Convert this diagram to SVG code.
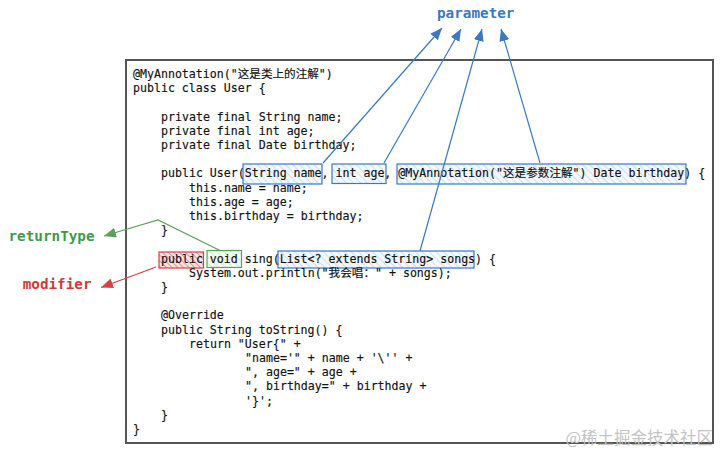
<svg xmlns="http://www.w3.org/2000/svg" width="720" height="452" viewBox="0 0 720 452">
<style>
.code{font-family:"DejaVu Sans Mono","Liberation Mono","Noto Sans CJK SC",monospace;font-size:11.6px;fill:#111;stroke:#111;stroke-width:0.15}
.lbl{font-family:"DejaVu Sans Mono","Liberation Mono",monospace;font-size:14.3px;font-weight:bold}
.frame{fill:#fff;stroke:#555;stroke-width:2}
.bbox{stroke:#3a78c3;stroke-width:1.2;fill:url(#hb)}
.rbox{stroke:#d94040;stroke-width:1.2;fill:url(#hr)}
.gbox{stroke:#5aa05a;stroke-width:1.2;fill:url(#hg)}
.bl{stroke:#3a78c3;stroke-width:1.2;fill:none}
.rl{stroke:#d94040;stroke-width:1.2;fill:none}
.gl{stroke:#5aa05a;stroke-width:1.2;fill:none}
.wm{font-family:"Noto Sans CJK SC",sans-serif;font-size:16.5px;fill:#c4c4c4}
</style>
<defs>
<pattern id="hb" width="5" height="5" patternUnits="userSpaceOnUse" patternTransform="rotate(-45)">
<rect width="5" height="5" fill="#f3f8fd"/><line x1="0" y1="0" x2="0" y2="5" stroke="#a9c8ea" stroke-width="1"/>
</pattern>
<pattern id="hr" width="4" height="4" patternUnits="userSpaceOnUse" patternTransform="rotate(-45)">
<rect width="4" height="4" fill="#fbe3e3"/><line x1="0" y1="0" x2="0" y2="4" stroke="#e06464" stroke-width="1.3"/>
</pattern>
<pattern id="hg" width="5" height="5" patternUnits="userSpaceOnUse" patternTransform="rotate(-45)">
<rect width="5" height="5" fill="#f4faf3"/><line x1="0" y1="0" x2="0" y2="5" stroke="#b9dcb5" stroke-width="1"/>
</pattern>
<marker id="ab" viewBox="0 0 12 10" refX="12" refY="5" markerWidth="12" markerHeight="10" markerUnits="userSpaceOnUse" orient="auto">
<path d="M0,0 L12,5 L0,10 z" fill="#3a78c3"/>
</marker>
<marker id="ar" viewBox="0 0 12 10" refX="12" refY="5" markerWidth="12" markerHeight="10" markerUnits="userSpaceOnUse" orient="auto">
<path d="M0,0 L12,5 L0,10 z" fill="#d94040"/>
</marker>
<marker id="ag" viewBox="0 0 12 10" refX="12" refY="5" markerWidth="12" markerHeight="10" markerUnits="userSpaceOnUse" orient="auto">
<path d="M0,0 L12,5 L0,10 z" fill="#5aa05a"/>
</marker>
</defs>
<rect width="720" height="452" fill="#fff"/>

<g id="code-frame">
<rect class="frame" x="126" y="60" width="587" height="383"/>
</g>

<g id="highlights">
<rect id="p-name" class="bbox" x="243" y="164" width="79" height="20"/>
<rect id="p-age" class="bbox" x="332" y="164" width="54" height="19.5"/>
<rect id="p-birthday" class="bbox" x="397" y="164" width="289" height="20"/>
<rect id="p-songs" class="bbox" x="278" y="251" width="196" height="17"/>
<rect id="mod-public" class="rbox" x="159" y="252" width="44.5" height="16"/>
<rect id="ret-void" class="gbox" x="207" y="250.5" width="34.5" height="17"/>
</g>

<g id="code">
<text class="code" x="133" y="78">@MyAnnotation("这是类上的注解")</text>
<text class="code" x="133" y="92.2">public class User {</text>
<text class="code" x="161" y="120.6">private final String name;</text>
<text class="code" x="161" y="134.8">private final int age;</text>
<text class="code" x="161" y="149">private final Date birthday;</text>
<text class="code" x="161" y="177.4">public User(String name, int age, @MyAnnotation("这是参数注解") Date birthday) {</text>
<text class="code" x="189" y="191.6">this.name = name;</text>
<text class="code" x="189" y="205.8">this.age = age;</text>
<text class="code" x="189" y="220">this.birthday = birthday;</text>
<text class="code" x="161" y="234.2">}</text>
<text class="code" x="161" y="262.6">public void sing(List&lt;? extends String&gt; songs) {</text>
<text class="code" x="189" y="276.8">System.out.println("我会唱：" + songs);</text>
<text class="code" x="161" y="291">}</text>
<text class="code" x="161" y="319.4">@Override</text>
<text class="code" x="161" y="333.6">public String toString() {</text>
<text class="code" x="189" y="347.8">return "User{" +</text>
<text class="code" x="245" y="362">"name='" + name + '\'' +</text>
<text class="code" x="245" y="376.2">", age=" + age +</text>
<text class="code" x="245" y="390.4">", birthday=" + birthday +</text>
<text class="code" x="245" y="404.6">'}';</text>
<text class="code" x="161" y="418.8">}</text>
<text class="code" x="133" y="433">}</text>
</g>

<g id="label-parameter"><text class="lbl" x="437" y="17.5" fill="#3a78c3">parameter</text></g>
<g id="label-returnType"><text class="lbl" x="8.5" y="240.5" fill="#3c9a4a">returnType</text></g>
<g id="label-modifier"><text class="lbl" x="22.7" y="288.5" fill="#d03a3a">modifier</text></g>

<g id="connectors">
<line class="bl" x1="323" y1="163" x2="442" y2="28" marker-end="url(#ab)"/>
<line class="bl" x1="384" y1="163" x2="461" y2="29" marker-end="url(#ab)"/>
<line class="bl" x1="420" y1="251" x2="482" y2="29" marker-end="url(#ab)"/>
<line class="bl" x1="540" y1="163" x2="501" y2="29" marker-end="url(#ab)"/>
<polyline class="gl" points="220,250.5 158,220 104,236" marker-end="url(#ag)"/>
<line class="rl" x1="156" y1="267" x2="101" y2="287.5" marker-end="url(#ar)"/>
</g>

<text class="wm" x="713" y="444" text-anchor="end">@稀土掘金技术社区</text>
</svg>
